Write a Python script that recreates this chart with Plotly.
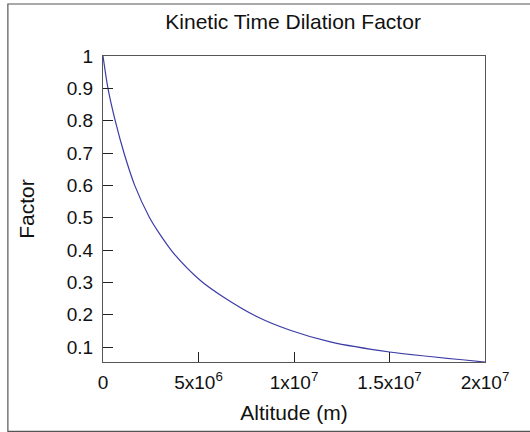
import plotly.graph_objects as go

# altitude (m) and kinetic time dilation factor
altitude = [0, 2.6e5, 6.4e5, 1.10e6, 1.66e6, 2.44e6, 3.0e6, 3.7e6, 5.1e6, 6.3e6,
            8.1e6, 9.8e6, 1.19e7, 1.5e7, 2.0e7]
factor = [1.0, 0.9, 0.8, 0.7, 0.6, 0.5, 0.447, 0.39, 0.306, 0.255,
          0.193, 0.152, 0.116, 0.085, 0.054]

x_ticks = [0, 5e6, 1e7, 1.5e7, 2e7]
x_labels = ["0", "5x10<sup>6</sup>", "1x10<sup>7</sup>", "1.5x10<sup>7</sup>", "2x10<sup>7</sup>"]
y_ticks = [0.1, 0.2, 0.3, 0.4, 0.5, 0.6, 0.7, 0.8, 0.9, 1]
y_labels = ["0.1", "0.2", "0.3", "0.4", "0.5", "0.6", "0.7", "0.8", "0.9", "1"]

fig = go.Figure(go.Scatter(
    x=altitude, y=factor, mode="lines",
    line=dict(color="#3c3ca6", width=1.2, shape="spline", smoothing=0.8),
    hoverinfo="skip",
))

axis_style = dict(
    showgrid=False, zeroline=False, showline=True, mirror=True,
    linecolor="#555555", linewidth=1.3,
    ticks="inside", ticklen=10, tickwidth=1.2, tickcolor="#222222",
    tickfont=dict(size=19, color="#111111"),
)

fig.update_layout(
    width=530, height=432,
    margin=dict(l=103, r=45, t=56, b=70),
    paper_bgcolor="white", plot_bgcolor="white",
    font=dict(family="Liberation Sans, Arial, sans-serif", color="#111111"),
    showlegend=False,
    title=dict(text="Kinetic Time Dilation Factor", x=0.553, xanchor="center",
               y=0.949, yanchor="middle", font=dict(size=21)),
    xaxis=dict(range=[0, 2e7], tickvals=x_ticks, ticktext=x_labels,
               ticklabelstandoff=3,
               title=dict(text="Altitude (m)", font=dict(size=21), standoff=13),
               **axis_style),
    yaxis=dict(range=[0.054, 1], tickvals=y_ticks, ticktext=y_labels,
               ticklabelstandoff=5,
               title=dict(text="Factor", font=dict(size=21), standoff=26),
               **axis_style),
    shapes=[dict(type="rect", xref="paper", yref="paper",
                 x0=-0.249, x1=1.3, y0=-0.227, y1=1.170,
                 line=dict(color="#555555", width=1.2))],
)

# the page's default body margin would shift the figure by 8px
fig.write_html("out.html", config={"displayModeBar": False},
               post_script="document.body.style.margin='0px';")
